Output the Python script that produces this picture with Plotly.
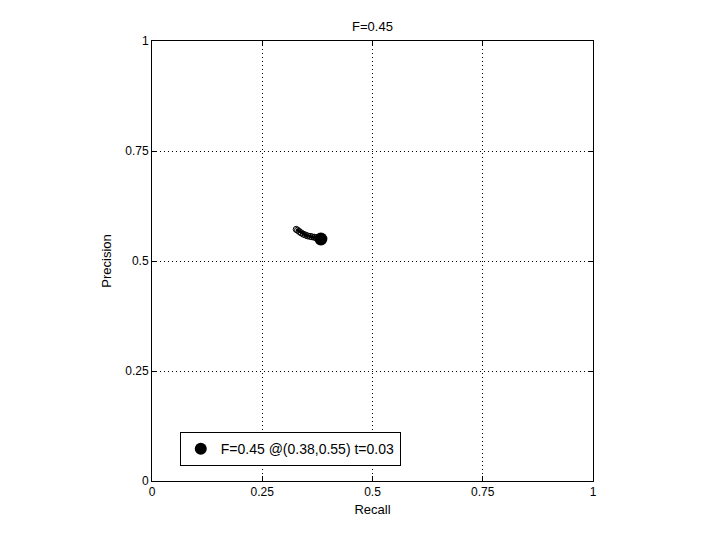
import plotly.graph_objects as go

recall = [0.327, 0.330, 0.334, 0.338, 0.343, 0.348, 0.353, 0.358, 0.363, 0.368, 0.372, 0.376, 0.380, 0.383]
precision = [0.572, 0.570, 0.567, 0.564, 0.561, 0.559, 0.557, 0.556, 0.555, 0.554, 0.553, 0.552, 0.551, 0.550]
best_r = [0.383]
best_p = [0.550]
best_label = "F=0.45 @(0.38,0.55) t=0.03"
title = "F=0.45"
ticks = [0, 0.25, 0.5, 0.75, 1]
tick_text = ["0", "0.25", "0.5", "0.75", "1"]

fig = go.Figure()
fig.add_trace(go.Scatter(x=recall, y=precision, mode="lines+markers",
                         line=dict(color="black", width=3),
                         marker=dict(symbol="circle-open", size=6, color="black", line=dict(width=1)),
                         showlegend=False))
fig.add_trace(go.Scatter(x=best_r, y=best_p, mode="markers",
                         marker=dict(symbol="circle", size=13, color="black"),
                         name=best_label))

axis_common = dict(range=[0, 1], tickvals=ticks, ticktext=tick_text, showgrid=True,
                   gridcolor="black", griddash="1px,3px", gridwidth=1,
                   showline=True, linecolor="black", linewidth=1, mirror="ticks",
                   ticks="inside", ticklen=5, tickcolor="black", zeroline=False,
                   tickfont=dict(size=12, color="black"))
fig.update_xaxes(**axis_common, title=dict(text="Recall", font=dict(size=13, color="black"), standoff=6))
fig.update_yaxes(**axis_common, title=dict(text="Precision", font=dict(size=13, color="black"), standoff=10))

fig.update_layout(
    width=720, height=540,
    margin=dict(l=144, r=135, t=33, b=67),
    paper_bgcolor="white", plot_bgcolor="white",
    font=dict(family="Liberation Sans, Arial, sans-serif", size=12, color="black"),
    title=dict(text=title, x=(144 + 585) / 2 / 720, xanchor="center", y=1 - 18 / 540, yanchor="middle",
               font=dict(size=13, color="black")),
    legend=dict(x=0.063, y=0.111, xanchor="left", yanchor="top", bgcolor="white",
                bordercolor="black", borderwidth=1, font=dict(size=14, color="black"),
                itemsizing="constant"),
)

fig.write_html("out.html")
